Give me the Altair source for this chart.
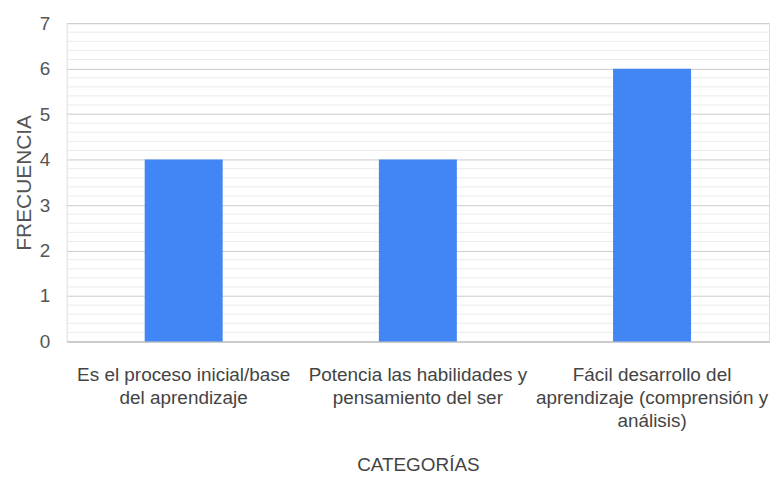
import altair as alt
import pandas as pd

categories = [
    "Es el proceso inicial/base\ndel aprendizaje",
    "Potencia las habilidades y\npensamiento del ser",
    "Fácil desarrollo del\naprendizaje (comprensión y\nanálisis)",
]
frecuencia = [4, 4, 6]
major_ticks = [0, 1, 2, 3, 4, 5, 6, 7]
minor_ticks = [round(i * 0.2, 1) for i in range(36) if i % 5 != 0]

df = pd.DataFrame({"categoria": categories, "frecuencia": frecuencia})
df_minor = pd.DataFrame({"v": minor_ticks})

FONT = "Liberation Sans"

y_scale = alt.Scale(domain=[0, 7], nice=False)
y_axis = alt.Axis(
    values=major_ticks,
    format="d",
    grid=True,
    gridColor="#cccccc",
    domain=False,
    ticks=False,
    labelFont=FONT,
    labelFontSize=19,
    labelColor="#555555",
    labelPadding=17,
    titleFont=FONT,
    titleFontSize=21,
    titleFontWeight="normal",
    titleColor="#555555",
    titlePadding=5,
)

minor = alt.Chart(df_minor).mark_rule(color="#ebebeb", strokeWidth=1).encode(
    y=alt.Y("v:Q", scale=y_scale, axis=y_axis, title="FRECUENCIA"),
)

bars = alt.Chart(df).mark_bar(color="#4285f4").encode(
    x=alt.X(
        "categoria:N",
        sort=categories,
        title="CATEGORÍAS",
        scale=alt.Scale(paddingInner=0.667, paddingOuter=0.333),
        axis=alt.Axis(
            labelAngle=0,
            labelExpr="split(datum.label, '\\n')",
            labelFont=FONT,
            labelFontSize=19,
            labelColor="#444444",
            labelLineHeight=23,
            labelPadding=24,
            labelLimit=300,
            ticks=False,
            domainColor="#bbbbbb",
            titleFont=FONT,
            titleFontSize=19,
            titleFontWeight="normal",
            titleColor="#444444",
            titlePadding=26,
        ),
    ),
    y=alt.Y("frecuencia:Q", scale=y_scale, axis=y_axis, title="FRECUENCIA"),
)

chart = (
    alt.layer(minor, bars)
    .properties(width=706, height=320)
    .configure_view(stroke=None)
    .configure(background="white")
)

chart.save("out.html", embed_options={"renderer": "svg", "actions": False})
